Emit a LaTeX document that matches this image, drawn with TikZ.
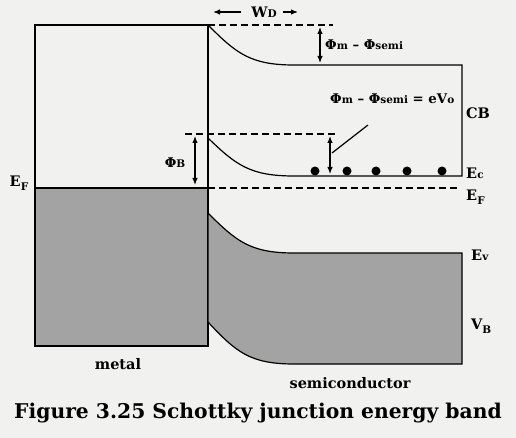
\documentclass[tikz,border=0pt]{standalone}
\usepackage{fontspec}
\setmainfont{DejaVu Serif}
\usetikzlibrary{positioning,arrows.meta}

\definecolor{paper}{RGB}{241,241,239}
\definecolor{bandgray}{RGB}{163,163,163}

% small letters sitting on the line, and true subscripts
\newcommand{\lo}[1]{{\fontsize{10.5}{12}\selectfont #1}}
\newcommand{\dn}[1]{\raisebox{-0.5ex}{\fontsize{10.5}{12}\selectfont #1}}

\tikzset{
  lbl/.style={font=\bfseries\fontsize{14.5}{16}\selectfont, inner sep=1pt},
  small lbl/.style={font=\bfseries\fontsize{13.3}{15}\selectfont, inner sep=1pt},
  band/.style={line width=1.2pt},
  dashline/.style={line width=1.2pt, dash pattern=on 7pt off 4pt},
  dim/.style={line width=1.2pt, <->},
}

\begin{document}
\begin{tikzpicture}[x=1pt, y=-1pt, >={Latex[length=7pt,width=5.5pt]}]
\useasboundingbox[fill=paper] (0,0) rectangle (516,438);

\pgfmathsetmacro{\xj}{208}  % junction
\pgfmathsetmacro{\xc}{250}  % control point of the bending
\pgfmathsetmacro{\xf}{294}  % end of the bending
\pgfmathsetmacro{\xr}{462}  % right end of the bands

% corners of the metal
\coordinate (mtl) at (35,25);
\coordinate (mbr) at (\xj,346);
\coordinate (efl) at (35,188);
\coordinate (efj) at (\xj,188);
\coordinate (efr) at (460,188);

% band edges of the semiconductor
\coordinate (cbj) at (\xj,25);   \coordinate (cbf) at (\xf,65);   \coordinate (cbr) at (\xr,65);
\coordinate (ecj) at (\xj,138);  \coordinate (ecf) at (\xf,176);  \coordinate (ecr) at (\xr,176);
\coordinate (evj) at (\xj,213);  \coordinate (evf) at (\xf,253);  \coordinate (evr) at (\xr,253);
\coordinate (vbj) at (\xj,322);  \coordinate (vbf) at (\xf,364);  \coordinate (vbr) at (\xr,364);

\begin{scope}% metal
\fill[bandgray] (efl) rectangle (mbr);
\draw[band] (mtl) rectangle (mbr);
\draw[band] (efl) -- (efj);
\end{scope}

\begin{scope}% semiconductor
\filldraw[band, fill=bandgray] (evj) .. controls (236,241) and (\xc,253) .. (evf) -- (evr) -- (vbr)
    -- (vbf) .. controls (\xc,364) and (236,352) .. (vbj) -- cycle;
\draw[band] (cbj) .. controls (236,53) and (\xc,65) .. (cbf) -- (cbr) -- (ecr)
    -- (ecf) .. controls (\xc,176) and (236,165) .. (ecj);
\foreach \ex in {315,347,376,407,442}
    \fill (\ex,171) circle (4.5pt);
\end{scope}

\begin{scope}% levels and distances
\coordinate (topd) at (333,25);
\coordinate (phl) at (185,134);
\coordinate (phr) at (337,134);
\draw[dashline] (cbj) -- (topd);
\draw[dashline] (phl) -- (phr);
\draw[dashline] (efj) -- (efr);

\coordinate (d1a) at (320,27);   \coordinate (d1b) at (320,63);
\coordinate (d2a) at (195,136);  \coordinate (d2b) at (195,185);
\coordinate (d3a) at (330,136);  \coordinate (d3b) at (330,174);
\draw[dim] (d1a) -- (d1b);
\draw[dim] (d2a) -- (d2b);
\draw[dim] (d3a) -- (d3b);

\coordinate (ptra) at (332,153);
\coordinate (ptrb) at (368,125);
\draw[band] (ptra) -- (ptrb);

\node[lbl] (wd) at (264,12) {W\lo{D}};
\coordinate (wdl) at (213,12);
\coordinate (wdr) at (298,12);
\draw[band, ->] ([xshift=-9pt]wd.west) -- (wdl);
\draw[band, ->] ([xshift=5pt]wd.east) -- (wdr);
\end{scope}

% labels
\node[small lbl, anchor=west] (dphi) at (324,45) {Φ\lo{m} – Φ\lo{semi}};
\node[small lbl, anchor=west] (evo) at (329,99) {Φ\lo{m} – Φ\lo{semi} = eV\lo{o}};
\node[small lbl] (phib) at (175,163) {Φ\lo{B}};
\node[lbl, anchor=west] (cb) at (465,113) {CB};
\node[lbl, anchor=west] (ec) at (465,173) {E\lo{c}};
\node[lbl, anchor=west] (efrl) at (465,197) {E\dn{F}};
\node[lbl] (efll) at (19,183) {E\dn{F}};
\node[lbl, anchor=west] (ev) at (470,255) {E\lo{v}};
\node[lbl, anchor=west] (vb) at (470,326) {V\dn{B}};
\node[lbl] (metal) at (118,364) {metal};
\node[lbl] (semi) at (350,383) {semiconductor};
\node[font=\bfseries\fontsize{20.3}{23}\selectfont] (cap) at (258,413)
    {Figure 3.25 Schottky junction energy band};

\end{tikzpicture}
\end{document}
